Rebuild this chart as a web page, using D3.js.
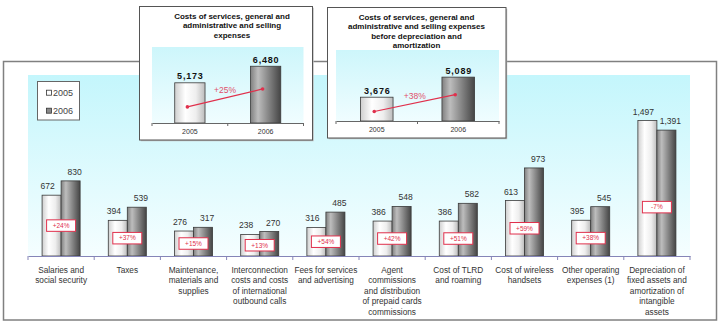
<!DOCTYPE html>
<html><head><meta charset="utf-8">
<script src="https://cdn.jsdelivr.net/npm/d3@7"></script>
<style>
body{margin:0;background:#fff}
svg{display:block}
text{font-family:"Liberation Sans",Arial,sans-serif}
</style>
</head><body>
<svg id="c" width="719" height="325"></svg>
<script>
// ---------- data ----------
const categories = [
  "Salaries and\nsocial security",
  "Taxes",
  "Maintenance,\nmaterials and\nsupplies",
  "Interconnection\ncosts and costs\nof international\noutbound calls",
  "Fees for services\nand advertising",
  "Agent\ncommissions\nand distribution\nof prepaid cards\ncommissions",
  "Cost of TLRD\nand roaming",
  "Cost of wireless\nhandsets",
  "Other operating\nexpenses (1)",
  "Depreciation of\nfixed assets and\namortization of\nintangible\nassets"
];
const years = ["2005", "2006"];
const values2005 = [672, 394, 276, 238, 316, 386, 386, 613, 395, 1497];
const values2006 = [830, 539, 317, 270, 485, 548, 582, 973, 545, 1391];
const pctLabels = ["+24%", "+37%", "+15%", "+13%", "+54%", "+42%", "+51%", "+59%", "+38%", "-7%"];

const insetTitles = [
  ["Costs of services, general and", "administrative and selling", "expenses"],
  ["Costs of services, general and", "administrative and selling expenses", "before depreciation and", "amortization"]
];
const insetValues2005 = [5173, 3676];
const insetValues2006 = [6480, 5089];
const insetPct = ["+25%", "+38%"];

// ---------- setup ----------
const svg = d3.select("#c");
const defs = svg.append("defs");
const fmt = d3.format(",");
function grad(id, vertical, stops) {
  const g = defs.append("linearGradient").attr("id", id)
    .attr("x1", 0).attr("y1", 0).attr("x2", vertical ? 0 : 1).attr("y2", vertical ? 1 : 0);
  stops.forEach(s => g.append("stop").attr("offset", s[0]).attr("stop-color", s[1]));
}
grad("g05", false, [[0, "#cfcfcf"], [0.35, "#ffffff"], [0.7, "#eeeeee"], [1, "#bcbcbc"]]);
grad("g06", false, [[0, "#808080"], [0.25, "#bdbdbd"], [0.6, "#858585"], [1, "#454545"]]);
grad("bgMain", true, [[0, "#c4f6fc"], [1, "#f5feff"]]);
grad("bgInset", true, [[0, "#cdf6fb"], [1, "#f0fdff"]]);
const fills = {"2005": "url(#g05)", "2006": "url(#g06)"};
const red = "#e0304c";

// ---------- main panel ----------
svg.append("rect").attr("x", 3.5).attr("y", 61.5).attr("width", 713).attr("height", 258.5)
  .attr("fill", "#fff").attr("stroke", "#808080").attr("stroke-width", 1.5);

const x = d3.scaleBand().domain(categories).range([28, 690]);
const xi = d3.scaleBand().domain(years).range([0, x.bandwidth()]).paddingOuter(0.74);
const y = d3.scaleLinear().domain([0, 2000]).range([256, 75]);

svg.append("rect").attr("x", 28).attr("y", y(2000)).attr("width", 662).attr("height", y(0) - y(2000))
  .attr("fill", "url(#bgMain)");

const rows = categories.map((c, i) => ({c, i, v: {"2005": values2005[i], "2006": values2006[i]}}));

const grp = svg.append("g").selectAll("g").data(rows).join("g")
  .attr("transform", d => `translate(${x(d.c)},0)`);

grp.selectAll("rect").data(d => years.map(yr => ({yr, v: d.v[yr]}))).join("rect")
  .attr("x", d => xi(d.yr)).attr("width", xi.bandwidth())
  .attr("y", d => y(d.v)).attr("height", d => y(0) - y(d.v))
  .attr("fill", d => fills[d.yr]).attr("stroke", "#3a3a3a").attr("stroke-width", 0.8);

grp.selectAll("text.val").data(d => years.map(yr => ({yr, v: d.v[yr]}))).join("text")
  .attr("class", "val")
  .attr("transform", d => `translate(${xi(d.yr) + xi.bandwidth() / 2 + (d.yr === "2005" ? -4 : 4)},${y(d.v) - 6}) scale(0.9,1)`)
  .attr("text-anchor", "middle").attr("font-size", 9.5).attr("fill", "#333")
  .text(d => fmt(d.v));

// percentage boxes
const pg = grp.append("g").attr("transform", d => {
  const m = Math.min(d.v["2005"], d.v["2006"]) / 2;
  return `translate(${x.bandwidth() / 2},${y(Math.min(m, 540))})`;
});
pg.append("rect").attr("x", -14.5).attr("y", -5.75).attr("width", 29).attr("height", 11.5)
  .attr("fill", "#fff").attr("stroke", red).attr("stroke-width", 1);
pg.append("text").attr("text-anchor", "middle").attr("dy", "0.35em")
  .attr("font-size", 6.5).attr("fill", red).text(d => pctLabels[d.i]);

// axis
const ax = svg.append("g").attr("transform", `translate(0,${y(0)})`)
  .call(d3.axisBottom(x).tickSize(4).tickSizeOuter(0).tickFormat(""));
ax.select(".domain").attr("stroke", "#8585b8").attr("stroke-width", 1.2);
ax.selectAll(".tick line").attr("x1", -x.bandwidth() / 2).attr("x2", -x.bandwidth() / 2)
  .attr("stroke", "#8585b8");
ax.append("line").attr("x1", 690).attr("x2", 690).attr("y1", 0).attr("y2", 4).attr("stroke", "#8585b8");
ax.selectAll(".tick").each(function (c) {
  const lines = c.split("\n");
  const t = d3.select(this).append("g").attr("transform", "translate(0,16.5) scale(0.92,1)")
    .append("text").attr("text-anchor", "middle").attr("font-size", 9).attr("fill", "#333");
  lines.forEach((ln, k) => t.append("tspan").attr("x", 0).attr("y", k * 10.6).text(ln));
});

// legend
const lg = svg.append("g");
lg.append("rect").attr("x", 37.5).attr("y", 81.5).attr("width", 42).attr("height", 38.5)
  .attr("fill", "#fff").attr("stroke", "#666");
years.forEach((yr, k) => {
  const cy = 92.7 + k * 18;
  lg.append("rect").attr("x", 46.5).attr("y", cy - 2.5).attr("width", 5).attr("height", 5)
    .attr("fill", yr === "2005" ? "#fff" : "#8a8a8a").attr("stroke", "#333").attr("stroke-width", 0.8);
  lg.append("text").attr("x", 53).attr("y", cy + 3.3).attr("font-size", 9).attr("fill", "#444").text(yr);
});

// ---------- insets ----------
const insetLayout = [
  {box: [139.5, 6.5, 173, 133.5], px: [152, 303.5], py: [123, 47], dom: [2000, 8000], tx: 232, ty: 18.5},
  {box: [327.5, 7.5, 178.5, 130.5], px: [336, 499], py: [121, 50], dom: [2000, 7000], tx: 416.5, ty: 19.5}
];
insetLayout.forEach((L, k) => {
  const g = svg.append("g");
  g.append("rect").attr("x", L.box[0] + 1.2).attr("y", L.box[1] + 1.2).attr("width", L.box[2]).attr("height", L.box[3])
    .attr("fill", "#bbb");
  g.append("rect").attr("x", L.box[0]).attr("y", L.box[1]).attr("width", L.box[2]).attr("height", L.box[3])
    .attr("fill", "#fff").attr("stroke", "#555").attr("stroke-width", 1);
  const t = g.append("text").attr("text-anchor", "middle").attr("font-size", 8)
    .attr("font-weight", "bold").attr("fill", "#111");
  insetTitles[k].forEach((ln, j) => t.append("tspan").attr("x", L.tx).attr("y", L.ty + j * 9.5).text(ln));

  const xs = d3.scaleBand().domain(years).range(L.px).paddingInner(0.6).paddingOuter(0.3);
  const ys = d3.scaleLinear().domain(L.dom).range(L.py);
  g.append("rect").attr("x", L.px[0]).attr("y", L.py[1]).attr("width", L.px[1] - L.px[0])
    .attr("height", L.py[0] - L.py[1]).attr("fill", "url(#bgInset)");
  const vals = {"2005": insetValues2005[k], "2006": insetValues2006[k]};
  years.forEach(yr => {
    g.append("rect").attr("x", xs(yr)).attr("width", xs.bandwidth())
      .attr("y", ys(vals[yr])).attr("height", ys(L.dom[0]) - ys(vals[yr]))
      .attr("fill", fills[yr]).attr("stroke", "#3a3a3a").attr("stroke-width", 0.8);
    g.append("text").attr("x", xs(yr) + xs.bandwidth() / 2 + 0.5).attr("y", ys(vals[yr]) - 3.5)
      .attr("text-anchor", "middle").attr("font-size", 9).attr("font-weight", "bold")
      .attr("letter-spacing", 0.8).attr("fill", "#111").text(fmt(vals[yr]));
  });
  const a = g.append("g").attr("transform", `translate(0,${L.py[0]})`)
    .call(d3.axisBottom(xs).tickSize(3).tickSizeOuter(0));
  a.select(".domain").attr("stroke", "#666");
  const step = xs.step();
  a.selectAll(".tick line").attr("x1", -step / 2).attr("x2", -step / 2).attr("stroke", "#666");
  a.append("line").attr("x1", L.px[1]).attr("x2", L.px[1]).attr("y1", 0).attr("y2", 3).attr("stroke", "#666");
  a.selectAll(".tick text").attr("y", 6).attr("font-size", 7).attr("fill", "#333")
    .attr("font-family", "Liberation Sans, Arial, sans-serif");

  // growth line
  const base = ys(L.dom[0]);
  const h0 = base - ys(vals["2005"]), h1 = base - ys(vals["2006"]);
  const p0 = [xs("2005") + xs.bandwidth() / 2 - 2.5, base - h0 * 0.4];
  const p1 = [xs("2006") + xs.bandwidth() / 2 - 3, base - h1 * 0.6];
  g.append("line").attr("x1", p0[0]).attr("y1", p0[1]).attr("x2", p1[0]).attr("y2", p1[1])
    .attr("stroke", red).attr("stroke-width", 1.2);
  [p0, p1].forEach(p => g.append("circle").attr("cx", p[0]).attr("cy", p[1]).attr("r", 1.8).attr("fill", red));
  g.append("text").attr("x", (p0[0] + p1[0]) / 2).attr("y", (p0[1] + p1[1]) / 2 - 4.5)
    .attr("text-anchor", "middle").attr("font-size", 8.5).attr("fill", "#e0506a").text(insetPct[k]);
});
</script>
</body></html>
